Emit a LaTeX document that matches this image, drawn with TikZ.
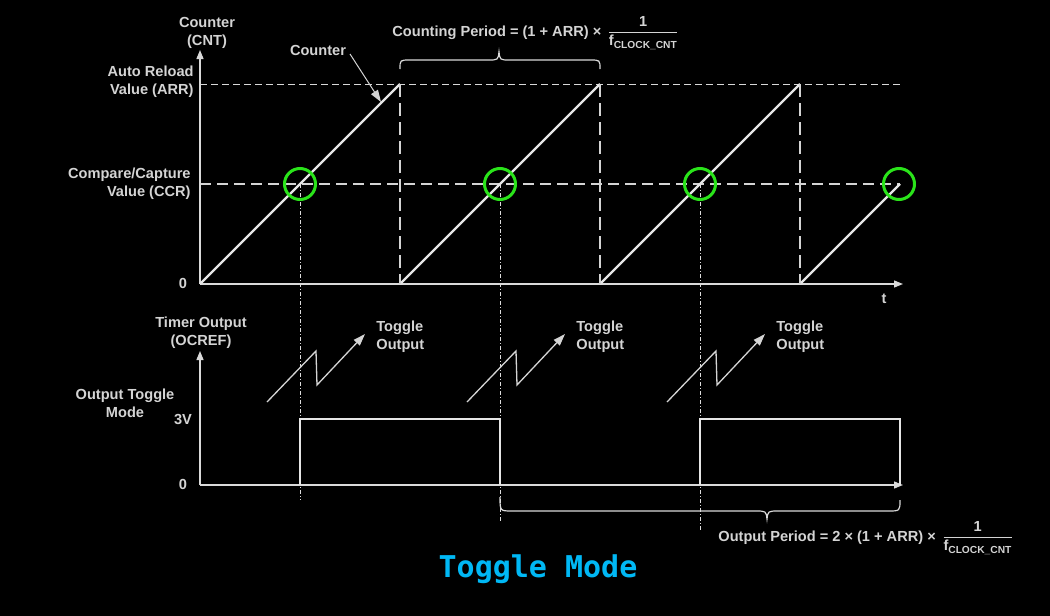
\documentclass[tikz,border=0pt]{standalone}
\usepackage{fontspec}
\setmainfont{Liberation Sans}
\newfontfamily\titlefont{DejaVu Sans Mono}
\usetikzlibrary{arrows.meta}

\definecolor{ink}{HTML}{D4D4D4}
\definecolor{wire}{HTML}{E6E6E6}
\definecolor{ring}{HTML}{2AE41A}
\definecolor{titleblue}{HTML}{00B8F5}

\tikzset{
  lbl/.style={text=ink,font=\fontsize{14.6}{18}\selectfont\bfseries,inner sep=0pt},
  axis/.style={draw=ink!85,line width=1.3pt,-{Triangle[length=9pt,width=7pt]}},
  ramp/.style={draw=wire,line width=2.2pt},
  wave/.style={draw=wire,line width=2.4pt},
  resetline/.style={draw=ink,line width=2pt,dash pattern=on 13pt off 6pt},
  arrline/.style={draw=ink!90,line width=1pt,dash pattern=on 7pt off 4pt},
  ccrline/.style={draw=ink,line width=1.8pt,dash pattern=on 11pt off 6pt},
  guide/.style={draw=ink!80,line width=0.8pt,dash pattern=on 4pt off 2pt on 1pt off 2pt},
  hit/.style={circle,draw=ring,line width=3pt,minimum size=31pt,inner sep=0pt},
  toggle/.style={draw=ink,line width=1.3pt,-{Triangle[length=12pt,width=8pt]}},
  brace/.style={draw=ink!85,line width=1.2pt},
}

\begin{document}
\begin{tikzpicture}
    [x=1pt,y=-1pt,>=stealth,thick]
    \fill[black] (0,0) rectangle (1050,616);
    \useasboundingbox (0,0) rectangle (1050,616);

    %Points of the counter plot
    \coordinate (r0) at (200,284);
    \coordinate (yTop) at (200,50);
    \coordinate (xEnd) at (903,284);
    \coordinate (arrL) at (200,84);
    \coordinate (arrR) at (903,84);
    \coordinate (ccrL) at (200,184);
    \coordinate (ccrR) at (900,184);
    \coordinate (p1) at (400,84);
    \coordinate (r1) at (400,284);
    \coordinate (p2) at (600,84);
    \coordinate (r2) at (600,284);
    \coordinate (p3) at (800,84);
    \coordinate (r3) at (800,284);
    \coordinate (p4) at (900,184);

    %Points of the output plot
    \coordinate (o0) at (200,485);
    \coordinate (oTop) at (200,351);
    \coordinate (oEnd) at (903,485);
    \coordinate (u1) at (300,485);
    \coordinate (h1) at (300,419);
    \coordinate (h2) at (500,419);
    \coordinate (u2) at (500,485);
    \coordinate (u3) at (700,485);
    \coordinate (h3) at (700,419);
    \coordinate (h4) at (900,419);
    \coordinate (u4) at (900,485);

    %Guide ends
    \coordinate (g1) at (300,500);
    \coordinate (g2) at (500,522);
    \coordinate (g3) at (700,530);

    %Labels
    \node[lbl,align=center] (cntlabel) at (207,33) {Counter\\(CNT)};
    \node[lbl,align=right,anchor=east] (arrlabel) at (194,82) {Auto Reload\\Value (ARR)};
    \node[lbl,align=right,anchor=east] (ccrlabel) at (191,184) {Compare/Capture\\Value (CCR)};
    \node[lbl] (zeroTop) at (183,283) {0};
    \node[lbl] (tlabel) at (884,299) {t};
    \node[lbl] (counter) at (318,50) {Counter};
    \coordinate (counterTip) at (381,102);
    \node[lbl,anchor=base west] (cntperiod) at (392,36)
        {Counting Period = (1 + ARR) × \,$\displaystyle\frac{\mbox{\,1\,}}{\mbox{f\textsubscript{CLOCK\_CNT}}}$};

    \node[lbl,align=center] (ocref) at (201,333) {Timer Output\\(OCREF)};
    \node[lbl,align=center] (modelabel) at (125,403) {Output Toggle\\Mode};
    \node[lbl] (threeV) at (183,419) {3V};
    \node[lbl] (zeroBot) at (183,484) {0};
    \node[lbl,align=left,anchor=west] (tog1) at (376,337) {Toggle\\Output};
    \node[lbl,align=left,anchor=west] (tog2) at (576,337) {Toggle\\Output};
    \node[lbl,align=left,anchor=west] (tog3) at (776,337) {Toggle\\Output};
    \node[lbl,anchor=base west] (outperiod) at (718,541)
        {Output Period = 2 × (1 + ARR) × \,$\displaystyle\frac{\mbox{\,1\,}}{\mbox{f\textsubscript{CLOCK\_CNT}}}$};

    \node[text=titleblue,font=\titlefont\bfseries\fontsize{30}{34}\selectfont] (title) at (538,569) {Toggle Mode};

    %Reference levels
    \draw[arrline] (arrL) -- (arrR);
    \draw[ccrline] (ccrL) -- (ccrR);
    \draw[guide] (300,184) -- (g1);
    \draw[guide] (500,184) -- (g2);
    \draw[guide] (700,184) -- (g3);

    %Axes
    \draw[axis] (r0) -- (yTop);
    \draw[axis] (r0) -- (xEnd);
    \draw[axis] (o0) -- (oTop);
    \draw[axis] (o0) -- (oEnd);

    %Counter
    \draw[ramp] (r0) -- (p1);
    \draw[ramp] (r1) -- (p2);
    \draw[ramp] (r2) -- (p3);
    \draw[ramp] (r3) -- (p4);
    \draw[resetline] (p1) -- (r1);
    \draw[resetline] (p2) -- (r2);
    \draw[resetline] (p3) -- (r3);
    \draw[toggle,line width=1pt] (350,54) -- (counterTip);

    %Compare matches
    \node[hit] (hit1) at (300,184) {};
    \node[hit] (hit2) at (500,184) {};
    \node[hit] (hit3) at (700,184) {};
    \node[hit] (hit4) at (899,184) {};

    %Output
    \draw[wave] (u1) -- (h1) -- (h2) -- (u2);
    \draw[wave] (u3) -- (h3) -- (h4) -- (u4);

    %Toggle arrows
    \draw[toggle] (267,402) -- (316,351) -- (317,385) -- (365,334);
    \draw[toggle] (467,402) -- (516,351) -- (517,385) -- (565,334);
    \draw[toggle] (667,402) -- (716,351) -- (717,385) -- (765,334);

    %Braces
    \draw[brace] (400,69) .. controls (400,60) .. (410,60) -- (488,60)
        .. controls (498,60) .. (499,52) .. controls (500,60) .. (510,60)
        -- (590,60) .. controls (600,60) .. (600,69);
    \draw[brace] (500,497) .. controls (500,511) .. (512,511) -- (755,511)
        .. controls (766,511) .. (767,519) .. controls (768,511) .. (779,511)
        -- (888,511) .. controls (900,511) .. (900,500);

\end{tikzpicture}
\end{document}
